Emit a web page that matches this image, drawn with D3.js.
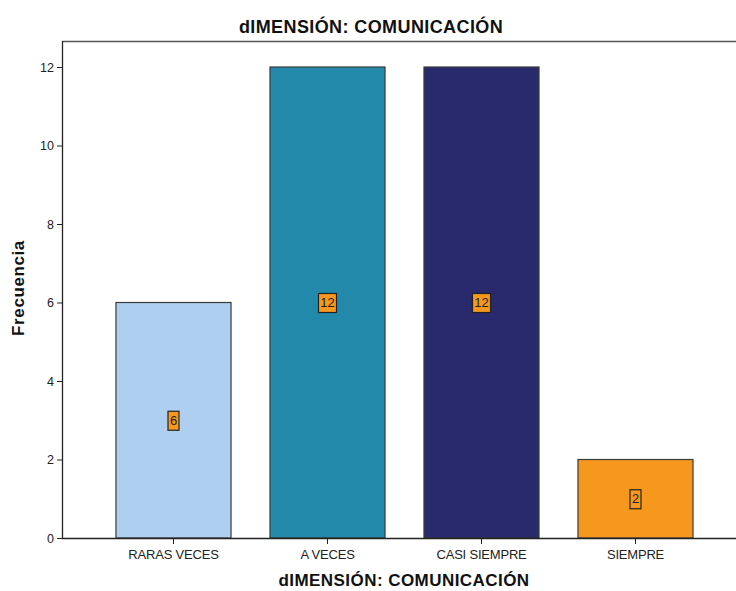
<!DOCTYPE html>
<html><head><meta charset="utf-8">
<script src="https://cdn.jsdelivr.net/npm/d3@7"></script>
<style>body{margin:0;background:#fff}svg{display:block}text{font-family:"Liberation Sans",Arial,sans-serif}</style>
</head><body><svg id="c" width="736" height="591"></svg>
<script>
const categories = ["RARAS VECES","A VECES","CASI SIEMPRE","SIEMPRE"];
const values = [6,12,12,2];
const colors = ["#aecff0","#2389ab","#29296e","#f7981e"];
const yTicks = [0,2,4,6,8,10,12];
const title = "dIMENSIÓN: COMUNICACIÓN";
const xTitle = "dIMENSIÓN: COMUNICACIÓN";
const yTitle = "Frecuencia";

(function(){
const svg = d3.select("#c");
const mL = 62, mR = 736, mT = 41, mB = 538;
const y = d3.scaleLinear().domain([0,12]).range([mB, 67]);
const x = d3.scaleBand().domain(categories).range([96.5, 712.5]).paddingInner(0.253).paddingOuter(0.1265);

// frame
svg.append("line").attr("x1",mL).attr("x2",mR).attr("y1",mT+0.5).attr("y2",mT+0.5).attr("stroke","#555").attr("stroke-width",1.5);
svg.append("line").attr("x1",mL+0.5).attr("x2",mL+0.5).attr("y1",mT).attr("y2",mB).attr("stroke","#222").attr("stroke-width",1.3);

// bars
svg.selectAll("rect.bar").data(values).join("rect").attr("class","bar")
  .attr("x",(d,i)=>x(categories[i])).attr("width",x.bandwidth())
  .attr("y",d=>y(d)).attr("height",d=>mB-y(d))
  .attr("fill",(d,i)=>colors[i]).attr("stroke","#3a3a3a").attr("stroke-width",1.2);

// x axis
const xa = svg.append("g").attr("transform",`translate(0,${mB})`).call(d3.axisBottom(x).tickSize(6).tickSizeOuter(0));
xa.select(".domain").attr("d",`M${mL},0.5H${mR}`).attr("stroke","#222").attr("stroke-width",1.3);
xa.selectAll(".tick line").attr("stroke","#222");
xa.selectAll(".tick text").attr("font-size",13).attr("fill","#222").attr("dy","0.95em").style("letter-spacing","-0.2px");

// y axis
const ya = svg.append("g").attr("transform",`translate(${mL},0)`).call(d3.axisLeft(y).tickValues(yTicks).tickSize(5).tickSizeOuter(0));
ya.select(".domain").remove();
ya.selectAll(".tick line").attr("stroke","#222");
ya.selectAll(".tick text").attr("font-size",12.5).attr("fill","#222").attr("x",-8);

// value labels
const lg = svg.selectAll("g.lab").data(values).join("g").attr("class","lab")
  .attr("transform",(d,i)=>`translate(${x(categories[i])+x.bandwidth()/2},${y(d/2)})`);
lg.each(function(d){
  const g=d3.select(this);
  const s=String(d);
  const w=s.length>1?18:11;
  g.append("rect").attr("x",-w/2).attr("y",-9).attr("width",w).attr("height",19).attr("fill","#f7981e").attr("stroke","#222").attr("stroke-width",1.2);
  g.append("text").text(s).attr("text-anchor","middle").attr("dy","0.36em").attr("font-size",13).attr("fill","#222");
});

// titles
svg.append("text").text(title).attr("x",371).attr("y",33).attr("text-anchor","middle").attr("font-size",18).attr("font-weight","bold").attr("fill","#111").style("letter-spacing","0.4px");
svg.append("text").text(xTitle).attr("x",404).attr("y",586).attr("text-anchor","middle").attr("font-size",17).attr("font-weight","bold").attr("fill","#111").style("letter-spacing","0.45px");
svg.append("text").text(yTitle).attr("transform","translate(24,288) rotate(-90)").attr("text-anchor","middle").attr("font-size",17).attr("font-weight","bold").attr("fill","#111").style("letter-spacing","0.6px");
})();
</script></body></html>
